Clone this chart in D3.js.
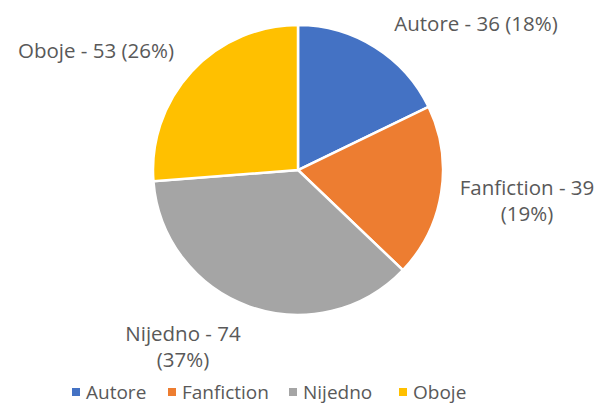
<!DOCTYPE html>
<html>
<head>
<meta charset="utf-8">
<script src="https://d3js.org/d3.v7.min.js"></script>
<style>
  body { margin: 0; background: #fff; }
  text { font-family: "Open Sans", "Noto Sans", sans-serif; fill: #595959; }
</style>
</head>
<body>
<svg id="chart" width="600" height="405"></svg>
<script>
var categories = ["Autore", "Fanfiction", "Nijedno", "Oboje"];
var values = [36, 39, 74, 53];
var percents = ["18%", "19%", "37%", "26%"];
var colors = ["#4472C4", "#ED7D31", "#A5A5A5", "#FFC000"];

// where each data label sits (centre x, first baseline)
var labelPos = [
  { x: 476, y: 31, split: false },
  { x: 527, y: 195, split: true },
  { x: 183, y: 341, split: true },
  { x: 96, y: 58, split: false }
];

var svg = d3.select("#chart");
var cx = 298, cy = 170, r = 145;

var pie = d3.pie().sort(null).value(function(d) { return d; });
var arc = d3.arc().innerRadius(0).outerRadius(r);

var g = svg.append("g").attr("transform", "translate(" + cx + "," + cy + ")");
g.selectAll("path")
  .data(pie(values))
  .enter().append("path")
    .attr("d", arc)
    .attr("fill", function(d, i) { return colors[i]; })
    .attr("stroke", "#fff")
    .attr("stroke-width", 2.5);

labelPos.forEach(function(p, i) {
  var main = categories[i] + " - " + values[i];
  var pct = "(" + percents[i] + ")";
  var lines = p.split ? [main, pct] : [main + " " + pct];
  var t = svg.append("text")
    .attr("x", p.x).attr("y", p.y)
    .attr("text-anchor", "middle")
    .style("font-size", "20.5px");
  lines.forEach(function(l, j) {
    t.append("tspan").attr("x", p.x).attr("dy", j === 0 ? 0 : 26).text(l);
  });
});

// legend
var legendX = [72, 168, 289, 399];
var leg = svg.selectAll(".leg")
  .data(categories)
  .enter().append("g")
    .attr("transform", function(d, i) { return "translate(" + legendX[i] + ",388)"; });
leg.append("rect").attr("width", 8).attr("height", 8)
  .attr("fill", function(d, i) { return colors[i]; });
leg.append("text").attr("x", 14).attr("y", 11)
  .style("font-size", "19px")
  .text(function(d) { return d; });
</script>
</body>
</html>
